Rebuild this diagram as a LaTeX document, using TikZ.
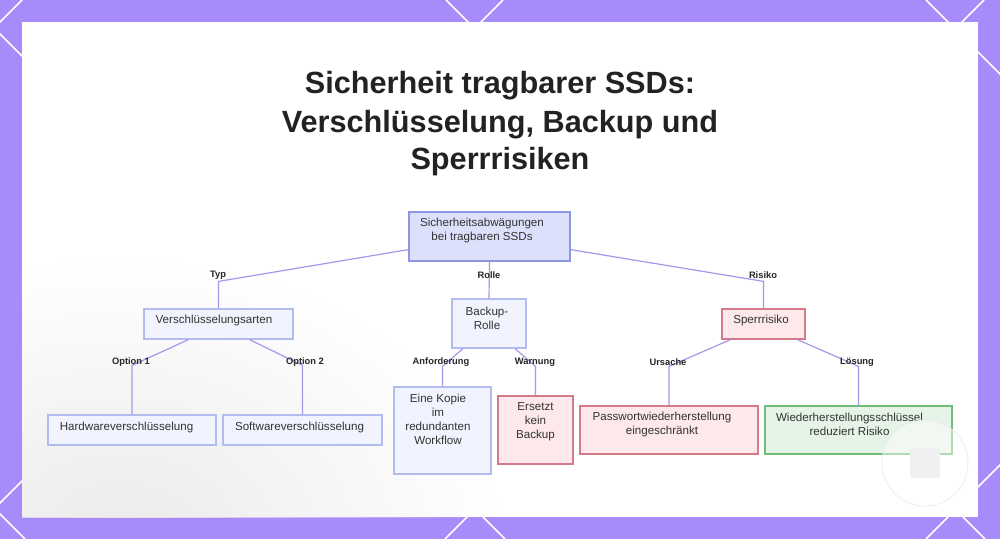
\documentclass[tikz,border=0pt]{standalone}
\usepackage{fontspec}
\setmainfont{Liberation Sans}
\usetikzlibrary{calc,fit,fadings}
\definecolor{bgpurple}{HTML}{A78BFA}
\definecolor{edgec}{HTML}{AD94EA}
\definecolor{rootfill}{HTML}{DDE0FB}
\definecolor{rootdraw}{HTML}{8E96E4}
\definecolor{bluefill}{HTML}{F1F3FE}
\definecolor{bluedraw}{HTML}{B3BCEF}
\definecolor{redfill}{HTML}{FDE8EC}
\definecolor{reddraw}{HTML}{D57A89}
\definecolor{greenfill}{HTML}{E6F4E8}
\definecolor{greendraw}{HTML}{70BC79}
\definecolor{txtc}{HTML}{333333}
\definecolor{titlec}{HTML}{222222}
\tikzfading[name=softblob, inner color=transparent!0, outer color=transparent!100]
\tikzset{
  boxbase/.style={rectangle, inner sep=0pt, line width=0.9pt},
  rootbox/.style={boxbase, fill=rootfill, draw=rootdraw},
  bluebox/.style={boxbase, fill=bluefill, draw=bluedraw},
  redbox/.style={boxbase, fill=redfill, draw=reddraw},
  greenbox/.style={boxbase, fill=greenfill, draw=greendraw},
  txt/.style={text=txtc, align=center, inner sep=0pt, font=\fontsize{8.7pt}{10.5pt}\selectfont},
  lbl/.style={text=black!85, inner sep=0pt, font=\bfseries\fontsize{7pt}{8pt}\selectfont},
  edge/.style={draw=edgec, line width=0.9pt},
  titletxt/.style={text=titlec, inner sep=0pt, anchor=base, font=\bfseries\fontsize{23pt}{28pt}\selectfont},
  deco/.style={draw=white, line width=1.1pt}
}
\begin{document}
\begin{tikzpicture}[x=0.75pt,y=-0.75pt]
\useasboundingbox (0,0) rectangle (1000,539);
% background
\fill[bgpurple] (0,0) rectangle (1000,539);
\begin{scope}
\clip (0,0) rectangle (1000,539);
\foreach \c in {22,503,984,1465} { \draw[deco] (\c,0) -- ({\c-539},539); }
\foreach \c in {-514,-34,446,926} { \draw[deco] (\c,0) -- ({\c+539},539); }
\end{scope}
% panel
\fill[white] (22,22) rectangle (978,517);
\begin{scope}
\clip (22,22) rectangle (978,517);
\fill[black!8, path fading=softblob] (120,540) ellipse (380 and 280);
\end{scope}
% title
\node[titletxt] (t1) at (500,93) {Sicherheit tragbarer SSDs:};
\node[titletxt] (t2) at (500,132) {Verschlüsselung, Backup und};
\node[titletxt] (t3) at (500,169) {Sperrrisiken};
% boxes
\node[rootbox, fit={(409,212)(570,261)}] (root) {};
\node[bluebox, fit={(144,309)(293,339)}] (vt) {};
\node[bluebox, fit={(48,415)(216,445)}] (hw) {};
\node[bluebox, fit={(223,415)(382,445)}] (sw) {};
\node[bluebox, fit={(452,299)(526,348)}] (bk) {};
\node[bluebox, fit={(394,387)(491,474)}] (kop) {};
\node[redbox, fit={(498,396)(573,464)}] (ers) {};
\node[redbox, fit={(722,309)(805,339)}] (sp) {};
\node[redbox, fit={(580,406)(758,454)}] (pw) {};
\node[greenbox, fit={(765,406)(952,454)}] (wd) {};
% texts
\node[txt] (root-t) at (482,230) {Sicherheitsabwägungen\\bei tragbaren SSDs};
\node[txt] (vt-t) at (214,320) {Verschlüsselungsarten};
\node[txt] (hw-t) at (126.5,427) {Hardwareverschlüsselung};
\node[txt] (sw-t) at (299.5,427) {Softwareverschlüsselung};
\node[txt] (bk-t) at (487,318) {Backup-\\Rolle};
\node[txt] (kop-t) at (438,419) {Eine Kopie\\im\\redundanten\\Workflow};
\node[txt] (ers-t) at (535.5,421.5) {Ersetzt\\kein\\Backup};
\node[txt] (sp-t) at (761,320) {Sperrrisiko};
\node[txt] (pw-t) at (662,424) {Passwortwiederherstellung\\eingeschränkt};
\node[txt] (wd-t) at (849.5,424) {Wiederherstellungsschlüssel\\reduziert Risiko};
% connectors
\draw[edge] ($(root.south west)+(0,-12)$) -- ($(vt.north)+(0,-27)$) -- (vt.north);
\draw[edge] (root.south) -- (bk.north);
\draw[edge] ($(root.south east)+(0,-12)$) -- ($(sp.north)+(0,-27)$) -- (sp.north);
\draw[edge] ($(vt.south)+(-30,0)$) -- ($(hw.north)+(0,-49)$) -- (hw.north);
\draw[edge] ($(vt.south)+(31,0)$) -- ($(sw.north)+(0,-49)$) -- (sw.north);
\draw[edge] ($(bk.south)+(-26,0)$) -- ($(kop.north)+(0,-20)$) -- (kop.north);
\draw[edge] ($(bk.south)+(26,0)$) -- ($(ers.north)+(0,-29)$) -- (ers.north);
\draw[edge] ($(sp.south)+(-33,0)$) -- ($(pw.north)+(0,-39)$) -- (pw.north);
\draw[edge] ($(sp.south)+(34,0)$) -- ($(wd.north)+(0,-39)$) -- (wd.north);
% edge labels
\node[lbl] (l-typ) at (218,275) {Typ};
\node[lbl] (l-rolle) at (489,275) {Rolle};
\node[lbl] (l-risiko) at (763,275) {Risiko};
\node[lbl] (l-o1) at (131,362) {Option 1};
\node[lbl] (l-o2) at (305,362) {Option 2};
\node[lbl] (l-anf) at (441,362) {Anforderung};
\node[lbl] (l-warn) at (535,362) {Warnung};
\node[lbl] (l-urs) at (668,362) {Ursache};
\node[lbl] (l-loes) at (857,362) {Lösung};
% watermark
\fill[white, opacity=0.45] (925,463) circle (43);
\draw[black!8, line width=0.5pt] (925,463) circle (43);
\fill[black!6, rounded corners=2pt] (910,448) rectangle (940,478);
\end{tikzpicture}
\end{document}
